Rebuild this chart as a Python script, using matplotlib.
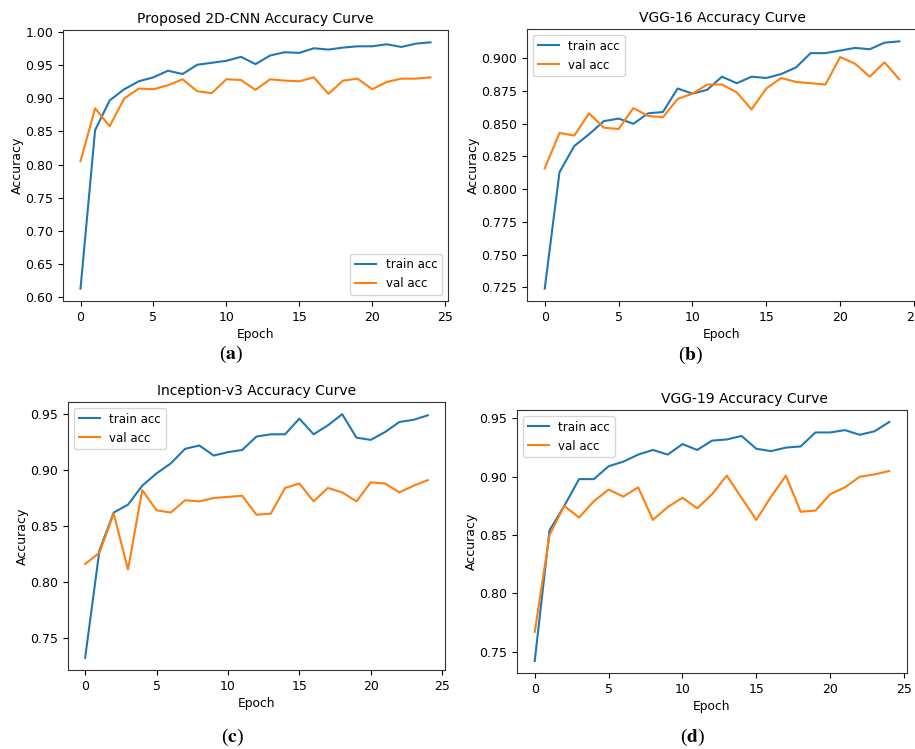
import numpy as np
import matplotlib
matplotlib.use('Agg')
from matplotlib import pyplot as plt

plt.rcParams['font.family'] = ['DejaVu Sans']
plt.rcParams['mathtext.fontset'] = 'stix'

epochs = np.arange(25)

# (a) proposed 2D-CNN
cnn_train = [0.612, 0.852, 0.897, 0.914, 0.926, 0.932, 0.942, 0.937, 0.951, 0.954,
             0.957, 0.963, 0.952, 0.965, 0.970, 0.969, 0.976, 0.974, 0.977, 0.979,
             0.979, 0.982, 0.978, 0.983, 0.985]
cnn_val = [0.805, 0.885, 0.858, 0.900, 0.915, 0.914, 0.920, 0.929, 0.911, 0.908,
           0.929, 0.928, 0.913, 0.929, 0.927, 0.926, 0.932, 0.907, 0.927, 0.930,
           0.914, 0.925, 0.930, 0.930, 0.932]

# (b) VGG-16
vgg16_train = [0.724, 0.813, 0.833, 0.842, 0.852, 0.854, 0.850, 0.858, 0.859, 0.877,
               0.873, 0.876, 0.886, 0.881, 0.886, 0.885, 0.888, 0.893, 0.904, 0.904,
               0.906, 0.908, 0.907, 0.912, 0.913]
vgg16_val = [0.816, 0.843, 0.841, 0.858, 0.847, 0.846, 0.862, 0.856, 0.855, 0.869,
             0.873, 0.880, 0.880, 0.874, 0.861, 0.877, 0.885, 0.882, 0.881, 0.880,
             0.901, 0.896, 0.886, 0.897, 0.884]

# (c) Inception-v3
inc_train = [0.732, 0.828, 0.862, 0.869, 0.886, 0.897, 0.906, 0.919, 0.922, 0.913,
             0.916, 0.918, 0.930, 0.932, 0.932, 0.946, 0.932, 0.940, 0.950, 0.929,
             0.927, 0.934, 0.943, 0.945, 0.949]
inc_val = [0.816, 0.826, 0.861, 0.811, 0.882, 0.864, 0.862, 0.873, 0.872, 0.875,
           0.876, 0.877, 0.860, 0.861, 0.884, 0.888, 0.872, 0.884, 0.880, 0.872,
           0.889, 0.888, 0.880, 0.886, 0.891]

# (d) VGG-19
vgg19_train = [0.742, 0.854, 0.875, 0.898, 0.898, 0.909, 0.913, 0.919, 0.923, 0.919,
               0.928, 0.923, 0.931, 0.932, 0.935, 0.924, 0.922, 0.925, 0.926, 0.938,
               0.938, 0.940, 0.936, 0.939, 0.947]
vgg19_val = [0.767, 0.850, 0.875, 0.865, 0.879, 0.889, 0.883, 0.891, 0.863, 0.874,
             0.882, 0.873, 0.885, 0.901, 0.882, 0.863, 0.883, 0.901, 0.870, 0.871,
             0.885, 0.891, 0.900, 0.902, 0.905]

W, H = 915, 749
fig = plt.figure(figsize=(W / 100, H / 100), dpi=100)


def px_axes(left, top, right, bottom):
    return fig.add_axes([left / W, 1 - bottom / H, (right - left) / W, (bottom - top) / H])


panels = [
    # title, train, val, rect(px), legend loc, caption, caption pos, title x
    ('Proposed 2D-CNN Accuracy Curve', cnn_train, cnn_val, (63, 30, 448, 301), 'lower right', 'a', (231, 354), 0.5),
    ('VGG-16 Accuracy Curve', vgg16_train, vgg16_val, (527, 29, 917, 301), 'upper left', 'b', (691, 355), 0.5),
    ('Inception-v3 Accuracy Curve', inc_train, inc_val, (68, 402, 445, 670), 'upper left', 'c', (232, 737), 0.5),
    ('VGG-19 Accuracy Curve', vgg19_train, vgg19_val, (517, 410, 907, 673), 'upper left', 'd', (693, 737), 0.582),
]

for title, tr, va, rect, loc, cap, cpos, tx in panels:
    ax = px_axes(*rect)
    ax.plot(epochs, tr, color='#1f77b4', lw=1.5, label='train acc')
    ax.plot(epochs, va, color='#ff7f0e', lw=1.5, label='val acc')
    ax.set_title(title, fontsize=10, x=tx, pad=5)
    ax.set_xlabel('Epoch', fontsize=8.8, labelpad=3)
    ax.set_ylabel('Accuracy', fontsize=9, labelpad=1)
    ax.set_xticks([0, 5, 10, 15, 20, 25])
    ax.tick_params(labelsize=9)
    for s in ax.spines.values():
        s.set_color('#333333')
    ax.legend(loc=loc, fontsize=8.5, handlelength=1.8)
    fig.text(cpos[0] / W, 1 - cpos[1] / H, r'($\mathbf{' + cap + '}$)',
             ha='center', va='center', fontsize=14, family='Liberation Serif')

fig.savefig('out.png', dpi=100)
